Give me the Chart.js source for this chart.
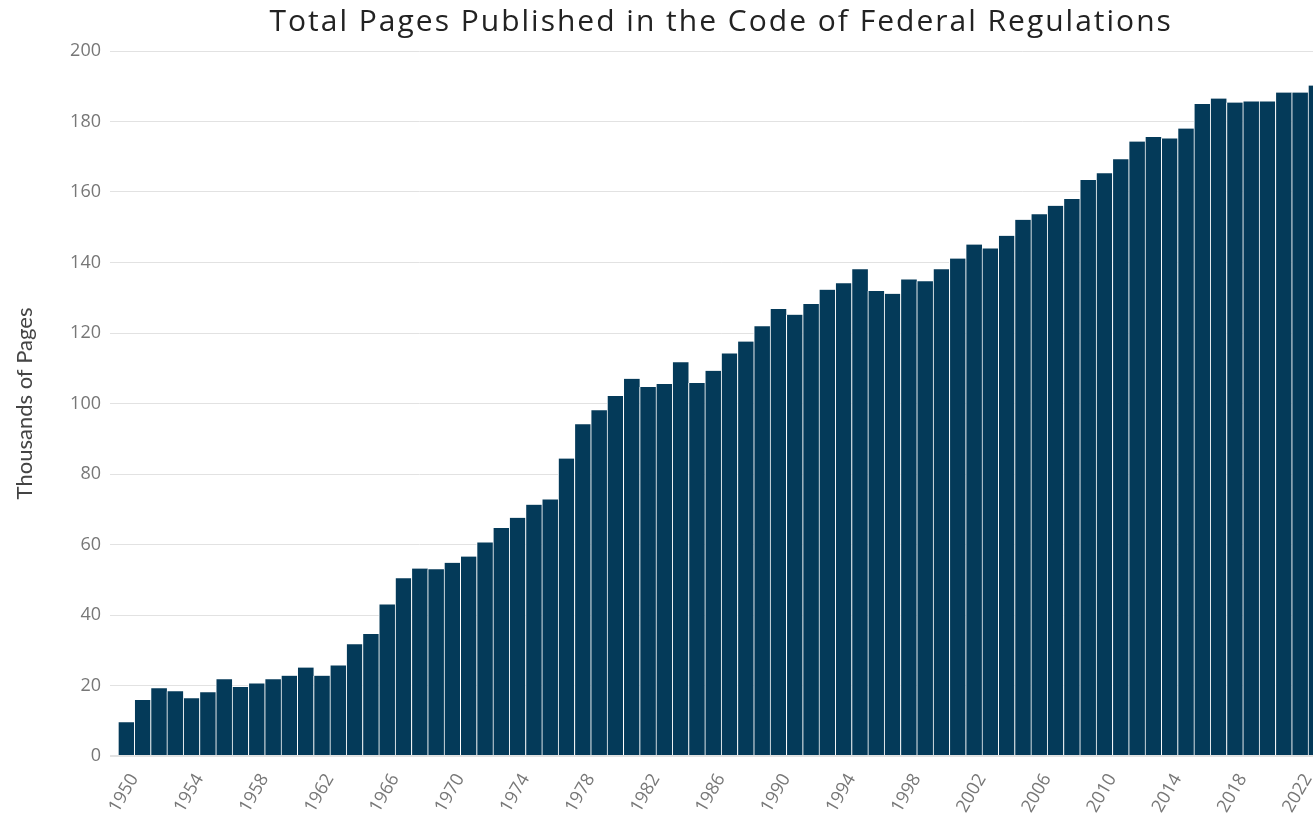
<!DOCTYPE html>
<html>
<head>
<meta charset="utf-8">
<script src="https://cdn.jsdelivr.net/npm/chart.js@4.4.1/dist/chart.umd.min.js"></script>
<style>
  html, body { margin: 0; padding: 0; overflow: hidden; background: #fff; }
  #wrap { width: 1341px; height: 813px; }
</style>
</head>
<body>
<div id="wrap"><canvas id="cfrChart"></canvas></div>
<script>
// years on the x axis
const years = [];
for (let y = 1950; y <= 2023; y++) years.push(String(y));

// thousands of pages
const pages = [
  9.6, 15.9, 19.2, 18.4, 16.4, 18.1, 21.8, 19.6, 20.6, 21.8,
  22.8, 25.1, 22.8, 25.7, 31.7, 34.6, 43.0, 50.4, 53.2, 53.0,
  54.8, 56.6, 60.6, 64.7, 67.6, 71.3, 72.8, 84.4, 94.1, 98.1,
  102.1, 107.0, 104.7, 105.5, 111.7, 105.8, 109.3, 114.2, 117.6, 121.9,
  126.8, 125.2, 128.2, 132.3, 134.1, 138.1, 131.9, 131.1, 135.2, 134.7,
  138.1, 141.1, 145.1, 144.0, 147.6, 152.1, 153.7, 156.1, 158.0, 163.4,
  165.3, 169.3, 174.3, 175.6, 175.2, 178.0, 185.0, 186.5, 185.4, 185.7,
  185.7, 188.2, 188.2, 190.2
];

const yTicks = [0, 20, 40, 60, 80, 100, 120, 140, 160, 180, 200];

const ctx = document.getElementById("cfrChart").getContext("2d");
const config = {
  type: "bar",
  data: {
    labels: years,
    datasets: [{
      label: "Thousands of Pages",
      data: pages,
      backgroundColor: "#043a59",
      borderColor: "#ffffff",
      borderWidth: { left: 1, right: 0, top: 0, bottom: 0 },
      borderSkipped: false,
      barPercentage: 1,
      categoryPercentage: 1
    }]
  },
  options: {
    responsive: true,
    maintainAspectRatio: false,
    animation: false,
    layout: { padding: 0 },
    plugins: {
      legend: { display: false },
      tooltip: { enabled: false },
      title: {
        display: true,
        text: "Total Pages Published in the Code of Federal Regulations",
        fullSize: false,
        color: "#222",
        font: { family: "Open Sans", size: 30, weight: "normal" },
        padding: { top: 4, bottom: 11 }
      }
    },
    scales: {
      x: {
        grid: { display: false },
        border: { display: false },
        ticks: {
          autoSkip: false,
          maxRotation: 60,
          minRotation: 60,
          color: "#777",
          font: { family: "Open Sans", size: 18 },
          padding: 6,
          labelOffset: 8,
          callback: function (value, index) {
            return (index % 4 === 0) ? years[index] : "";
          }
        },
        afterFit: function (axis) { axis.height = 57; }
      },
      y: {
        min: 0,
        max: 200,
        afterBuildTicks: function (axis) {
          axis.ticks = yTicks.map(v => ({ value: v }));
        },
        grid: {
          color: "#e2e2e2",
          lineWidth: function (c) { return c.tick && c.tick.value === 0 ? 2 : 1; },
          tickLength: 8
        },
        border: { display: false },
        ticks: {
          color: "#777",
          font: { family: "Open Sans", size: 18 },
          padding: 9
        },
        title: {
          display: true,
          text: "Thousands of Pages",
          color: "#444",
          font: { family: "Lato", size: 22 },
          padding: { top: 12, bottom: 0 }
        },
        afterFit: function (axis) { axis.width = 118; }
      }
    }
  }
};
let cfrChart = new Chart(ctx, config);

// the title font in the original is wider, so space the letters out a bit
const tb = cfrChart.titleBlock;
if (tb && "letterSpacing" in ctx) {
  const origDraw = tb.draw.bind(tb);
  tb.draw = function () {
    ctx.letterSpacing = "2px";
    origDraw();
    ctx.letterSpacing = "0px";
  };
  cfrChart.draw();
}
</script>
</body>
</html>
